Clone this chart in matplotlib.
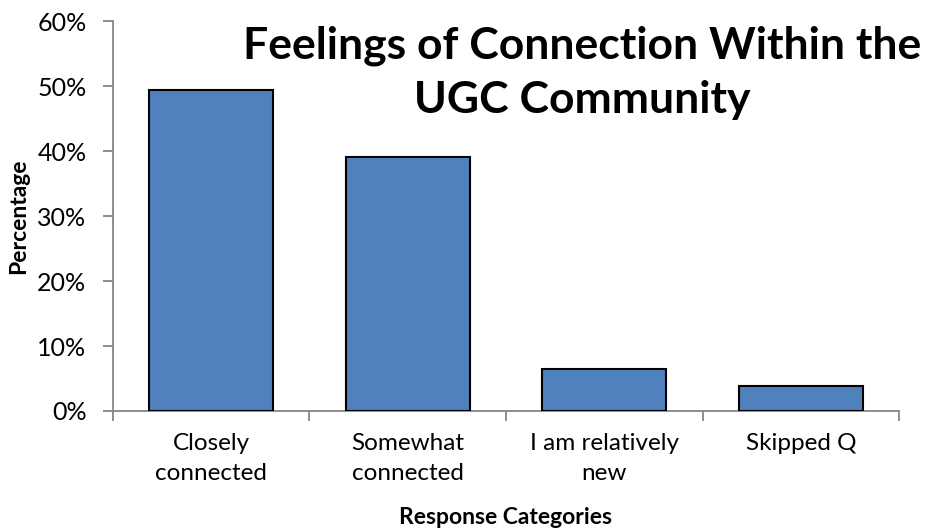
import numpy as np
import matplotlib.pyplot as plt
from matplotlib.ticker import PercentFormatter

# survey results
categories = ["Closely\nconnected", "Somewhat\nconnected", "I am relatively\nnew", "Skipped Q"]
values = [49.4, 39.1, 6.5, 3.9]

plt.rcParams['font.family'] = ['Lato', 'DejaVu Sans']

fig = plt.figure(figsize=(9.25, 5.31), dpi=100)
ax = fig.add_axes([0.122, 0.226, 0.850, 0.734])

x = np.arange(len(categories))
ax.bar(x, values, width=0.63, color="#4F81BD", edgecolor="black", linewidth=1.5, zorder=3)

ax.set_xlim(-0.5, len(categories) - 0.5)
ax.set_ylim(0, 60)
ax.set_yticks(np.arange(0, 61, 10))
ax.yaxis.set_major_formatter(PercentFormatter(decimals=0))
ax.set_xticks(np.arange(-0.5, len(categories), 1.0))
ax.set_xticklabels([])
ax.set_xticks(x, minor=True)
ax.set_xticklabels(categories, minor=True, fontsize=17.5, linespacing=1.5)
ax.tick_params(axis='x', which='minor', length=0, pad=16)
ax.tick_params(axis='x', which='major', length=7, color="#868686", width=1.3)
ax.tick_params(axis='y', length=7, color="#868686", width=1.3, labelsize=18, pad=12)

for s in ["top", "right"]:
    ax.spines[s].set_visible(False)
for s in ["left", "bottom"]:
    ax.spines[s].set_color("#868686")
    ax.spines[s].set_linewidth(1.3)

ax.set_xlabel("Response Categories", fontsize=16.5, fontweight="bold", labelpad=16.5)
ax.set_ylabel("Percentage", fontsize=16.5, fontweight="bold", labelpad=6)

fig.text(0.629, 0.952, "Feelings of Connection Within the\nUGC Community", ha="center", va="top",
         fontsize=32, fontweight="bold", linespacing=1.42)

fig.savefig("out.png", dpi=100)
